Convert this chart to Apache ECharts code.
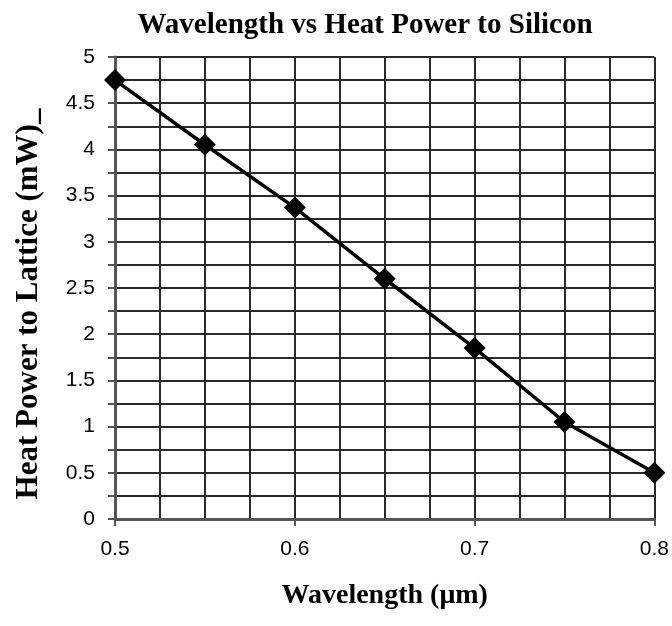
<!DOCTYPE html>
<html>
<head>
<meta charset="utf-8">
<script src="https://cdn.jsdelivr.net/npm/echarts@6/dist/echarts.min.js"></script>
<style>
  html, body { margin: 0; padding: 0; background: #fff; }
  #chart { width: 672px; height: 626px; }
</style>
</head>
<body>
<div id="chart"></div>
<script>
// wavelength (um) and heat power to lattice (mW)
var wavelength = [0.5, 0.55, 0.6, 0.65, 0.7, 0.75, 0.8];
var heatPower = [4.75, 4.05, 3.37, 2.6, 1.85, 1.05, 0.5];

var chart = echarts.init(document.getElementById('chart'));
var serif = '"Liberation Serif", "Times New Roman", serif';
var sans = '"Liberation Sans", Arial, sans-serif';
var gridLine = { color: '#2a2a2a', width: 2 };

var option = {
    animation: false,
    title: {
        text: 'Wavelength vs Heat Power to Silicon',
        left: 360,
        top: 6,
        textAlign: 'center',
        textStyle: { fontFamily: serif, fontWeight: 'bold', fontSize: 29, color: '#000' }
    },
    grid: { left: 115, right: 17, top: 57, bottom: 107 },
    xAxis: {
        type: 'value',
        min: 0.5,
        max: 0.8,
        interval: 0.1,
        name: 'Wavelength (\u03bcm)',
        nameLocation: 'middle',
        nameGap: 63,
        nameTextStyle: { fontFamily: serif, fontWeight: 'bold', fontSize: 28, color: '#000' },
        axisLine: { lineStyle: { color: '#555', width: 3 } },
        axisTick: { show: true, length: 7, lineStyle: { color: '#555', width: 2 } },
        axisLabel: { fontFamily: sans, fontSize: 21, color: '#000', margin: 20,
            formatter: function (v) { return v.toFixed(1); } },
        splitLine: { show: true, lineStyle: gridLine },
        minorTick: { show: false, splitNumber: 4 },
        minorSplitLine: { show: true, lineStyle: gridLine }
    },
    yAxis: {
        type: 'value',
        min: 0,
        max: 5,
        interval: 0.5,
        name: 'Heat Power to Lattice (mW)_',
        nameLocation: 'middle',
        nameGap: 71,
        nameTextStyle: { fontFamily: serif, fontWeight: 'bold', fontSize: 31, color: '#000',
            padding: [0, 32, 0, 0] },
        axisLine: { show: true, lineStyle: { color: '#555', width: 3 } },
        axisTick: { show: true, length: 7, lineStyle: { color: '#555', width: 2 } },
        axisLabel: { fontFamily: sans, fontSize: 21, color: '#000', margin: 20 },
        splitLine: { show: true, lineStyle: gridLine },
        minorTick: { show: true, splitNumber: 2, length: 7, lineStyle: { color: '#555', width: 2 } },
        minorSplitLine: { show: true, lineStyle: gridLine }
    },
    series: [{
        type: 'line',
        data: wavelength.map(function (w, i) { return [w, heatPower[i]]; }),
        symbol: 'diamond',
        symbolSize: 22,
        itemStyle: { color: '#000' },
        lineStyle: { color: '#000', width: 3.5 }
    }]
};

chart.setOption(option);
</script>
</body>
</html>
